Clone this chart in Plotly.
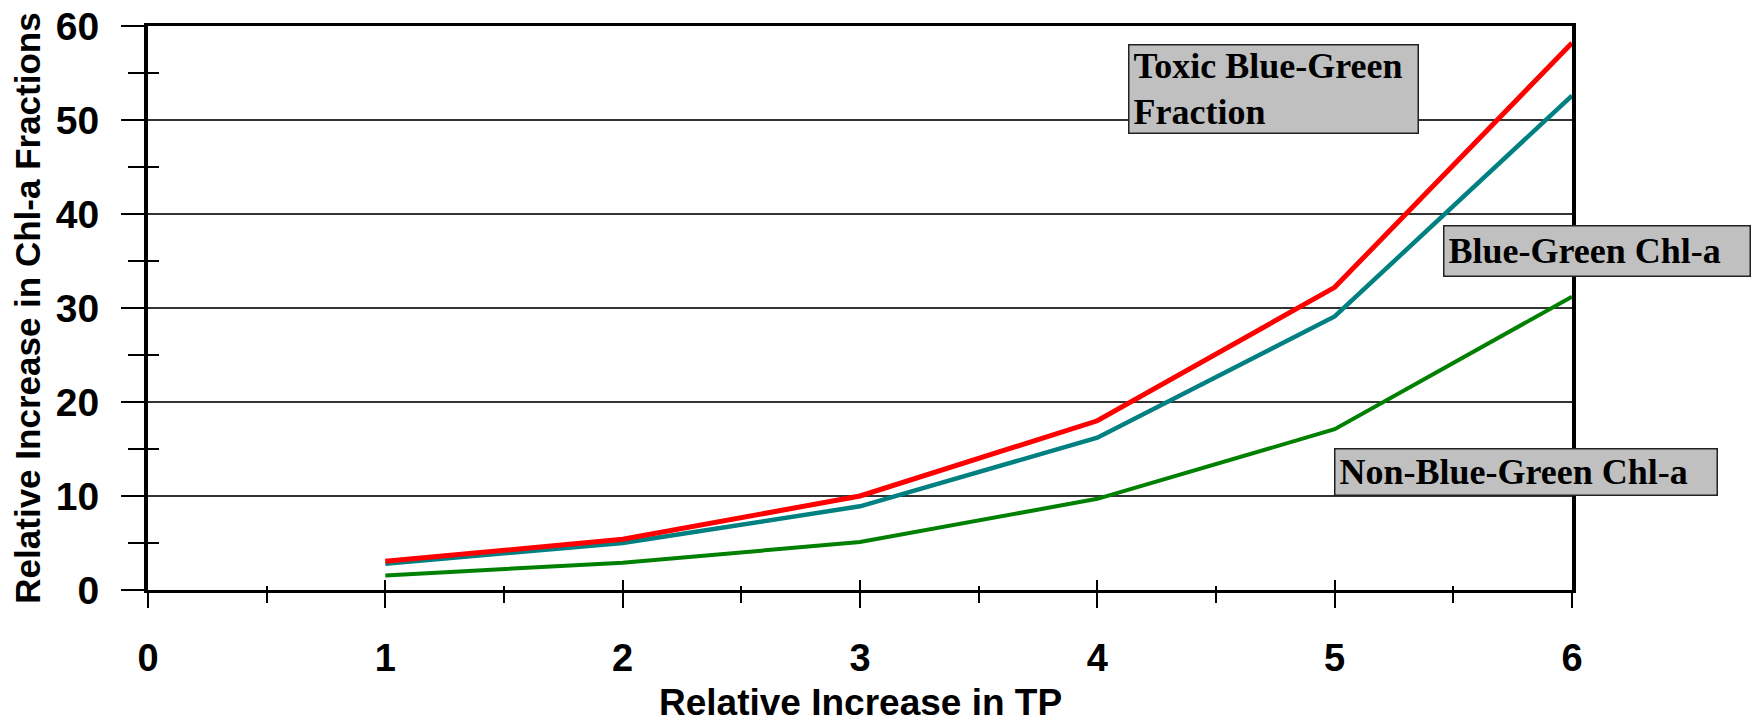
import plotly.graph_objects as go

# Relative increase in total phosphorus (x) and the response of each chlorophyll-a fraction
tp_increase = [1, 2, 3, 4, 5, 6]
toxic_bg_fraction = [3.05, 5.4, 10.0, 18.0, 32.2, 58.2]
blue_green_chla = [2.8, 5.0, 8.9, 16.2, 29.1, 52.6]
non_blue_green_chla = [1.55, 2.9, 5.1, 9.7, 17.1, 31.2]

x_major = [0, 1, 2, 3, 4, 5, 6]
x_minor = [0.5, 1.5, 2.5, 3.5, 4.5, 5.5]
y_major = [0, 10, 20, 30, 40, 50, 60]
y_minor = [5, 15, 25, 35, 45, 55]

SANS = "Liberation Sans, Arial, sans-serif"
SERIF = "Liberation Serif, Times New Roman, serif"

fig = go.Figure()

fig.add_trace(go.Scatter(x=tp_increase, y=non_blue_green_chla, mode="lines",
                         line=dict(color="#008000", width=4), name="Non-Blue-Green Chl-a"))
fig.add_trace(go.Scatter(x=tp_increase, y=blue_green_chla, mode="lines",
                         line=dict(color="#008080", width=4.5), name="Blue-Green Chl-a"))
fig.add_trace(go.Scatter(x=tp_increase, y=toxic_bg_fraction, mode="lines",
                         line=dict(color="#ff0000", width=5), name="Toxic Blue-Green Fraction"))

# carrier trace for the overlay axes that draw the inner halves of the crossing ticks
fig.add_trace(go.Scatter(x=[None], y=[None], xaxis="x2", yaxis="y2",
                         showlegend=False, hoverinfo="skip"))

box_style = dict(xref="x", yref="y", xanchor="left", yanchor="top", align="left",
                 valign="middle", showarrow=False, bgcolor="#c0c0c0",
                 bordercolor="#222222", borderwidth=1.5, borderpad=4,
                 font=dict(family=SERIF, size=36, color="black"))

fig.add_annotation(text="<b>Toxic Blue-Green<br>Fraction</b>", x=4.128, y=58.1,
                   width=280, height=79, **box_style)
fig.add_annotation(text="<b>Blue-Green Chl-a</b>", x=5.457, y=38.8,
                   width=297, height=41, **box_style)
fig.add_annotation(text="<b>Non-Blue-Green Chl-a</b>", x=4.998, y=15.1,
                   width=373, height=37, **box_style)

# x-axis title, placed below the tick labels
fig.add_annotation(text="<b>Relative Increase in TP</b>", xref="paper", yref="paper",
                   x=0.5, y=-0.2, xanchor="center", yanchor="middle", showarrow=False,
                   font=dict(family=SANS, size=37, color="black"))

fig.update_layout(
    width=1753, height=724,
    margin=dict(l=148, r=181, t=26, b=134),
    paper_bgcolor="white", plot_bgcolor="white",
    showlegend=False,
    xaxis=dict(
        range=[0, 6], tickmode="array", tickvals=x_major,
        ticktext=[str(v) for v in x_major], automargin=False,
        showgrid=False, zeroline=False,
        showline=True, linecolor="black", linewidth=3, mirror=True,
        ticks="outside", ticklen=15, tickwidth=1.5, tickcolor="black",
        minor=dict(tickmode="array", tickvals=x_minor, ticks="outside",
                   ticklen=10, tickwidth=1.5, tickcolor="black"),
        tickfont=dict(family=SANS, size=38, color="black", weight="bold"),
        ticklabelstandoff=17,
    ),
    yaxis=dict(
        range=[0, 60], tickmode="array", tickvals=y_major,
        ticktext=[str(v) for v in y_major], automargin=False,
        showgrid=True, gridcolor="#333333", gridwidth=1.5, zeroline=False,
        showline=True, linecolor="black", linewidth=4, mirror=True,
        ticks="outside", ticklen=23, tickwidth=1.5, tickcolor="black",
        minor=dict(tickmode="array", tickvals=y_minor, ticks="outside",
                   ticklen=16, tickwidth=1.5, tickcolor="black", showgrid=False),
        tickfont=dict(family=SANS, size=39, color="black", weight="bold"),
        ticklabelstandoff=14,
        title=dict(text="<b>Relative Increase in Chl-a Fractions</b>", standoff=6,
                   font=dict(family=SANS, size=35, color="black")),
    ),
    xaxis2=dict(
        overlaying="x", anchor="y2", side="bottom", range=[0, 6],
        tickmode="array", tickvals=x_major[1:], showticklabels=False,
        showgrid=False, zeroline=False, showline=False, automargin=False,
        ticks="inside", ticklen=10, tickwidth=1.5, tickcolor="black",
        minor=dict(tickmode="array", tickvals=x_minor, ticks="inside",
                   ticklen=4, tickwidth=1.5, tickcolor="black"),
    ),
    yaxis2=dict(
        overlaying="y", anchor="x2", side="left", range=[0, 60],
        tickmode="array", tickvals=y_minor, showticklabels=False,
        showgrid=False, zeroline=False, showline=False, automargin=False,
        ticks="inside", ticklen=11, tickwidth=1.5, tickcolor="black",
    ),
)

fig.write_html("out.html")
